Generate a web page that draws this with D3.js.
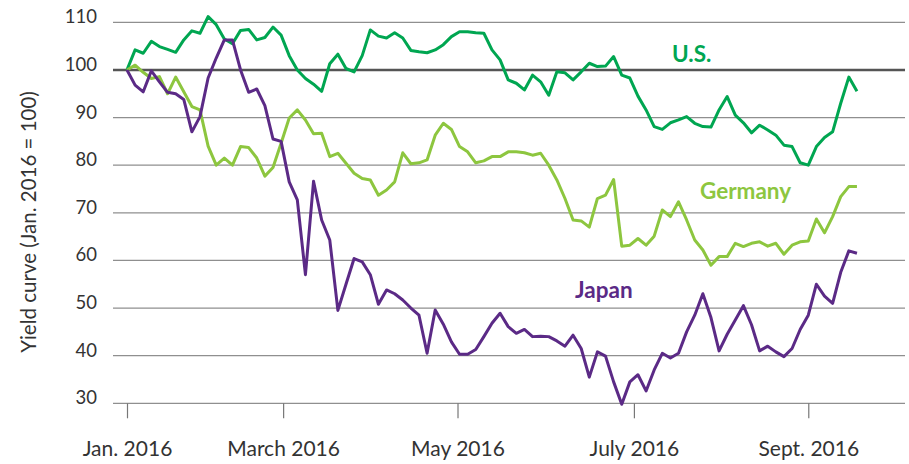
<!DOCTYPE html>
<html>
<head>
<meta charset="utf-8">
<script src="https://cdn.jsdelivr.net/npm/d3@7/dist/d3.min.js"></script>
<style>
	body { margin: 0; background: #fff; }
	svg { display: block; font-family: Lato, 'Open Sans', sans-serif; }
</style>
</head>
<body>
<div id="chart"></div>
<script>

// one reading every 2 trading days, starting Jan. 1 2016 (= 100)
const usValues = [
	100, 104.2, 103.5, 106, 104.9, 104.3, 103.7, 106.3, 108.2, 107.7,
	111.2, 109.5, 106.5, 105.5, 108.3, 108.5, 106.3, 106.8, 109, 107.3,
	103, 100, 98.2, 97, 95.5, 101.3, 103.3, 100.3, 99.6, 103,
	108.4, 107.1, 106.7, 107.8, 106.7, 104.1, 103.8, 103.6, 104.2, 105.3,
	107, 108, 108, 107.8, 107.7, 104.2, 102.1, 97.9, 97.2, 95.8,
	98.9, 97.5, 94.7, 99.6, 99.4, 97.9, 99.6, 101.4, 100.7, 100.8,
	102.8, 98.9, 98.3, 94.5, 91.6, 88.1, 87.5, 88.9, 89.5, 90.2,
	88.8, 88.1, 88, 91.6, 94.4, 90.5, 88.9, 86.8, 88.4, 87.4,
	86.3, 84.2, 83.9, 80.5, 80, 83.9, 85.8, 87, 93, 98.5,
	95.5
];

const germanyValues = [
	100, 101, 99.5, 98.2, 98.6, 95, 98.5, 95.4, 92.3, 91.6,
	84, 80, 81.5, 80, 83.9, 83.7, 81.5, 77.7, 79.5, 84.6,
	89.9, 91.6, 89.5, 86.6, 86.7, 81.8, 82.5, 80.4, 78.3, 77.2,
	76.9, 73.7, 74.8, 76.5, 82.6, 80.3, 80.5, 81.1, 86.3, 88.8,
	87.5, 83.9, 82.8, 80.5, 80.9, 81.8, 81.8, 82.8, 82.8, 82.6,
	82.1, 82.5, 80, 76.9, 73, 68.5, 68.3, 67, 73, 73.7,
	77, 63, 63.2, 64.6, 63.2, 65.1, 70.6, 69.2, 72.3, 68.5,
	64.3, 62.2, 59, 60.8, 60.8, 63.6, 62.9, 63.6, 63.9, 63,
	63.6, 61.3, 63.2, 63.9, 64.1, 68.7, 65.8, 69.2, 73.4, 75.5,
	75.5
];

const japanValues = [
	100, 96.8, 95.4, 99.8, 97.5, 95.3, 95, 93.8, 87, 90.2,
	98.3, 102.5, 106.3, 106.3, 100, 95.3, 96, 92.5, 85.5, 85,
	76.5, 72.7, 57, 76.6, 68.5, 64.3, 49.5, 55, 60.4, 59.7,
	57, 50.8, 53.8, 53, 51.7, 50, 48.5, 40.5, 49.6, 46.6,
	42.9, 40.3, 40.3, 41.3, 44, 46.8, 48.9, 46.1, 44.7, 45.5,
	44, 44.1, 44, 43.1, 42, 44.3, 41.5, 35.5, 40.8, 39.9,
	34.5, 29.8, 34.5, 36, 32.6, 37, 40.5, 39.5, 40.5, 45,
	48.5, 53, 48, 41, 44.5, 47.5, 50.5, 46.5, 41, 42,
	40.8, 39.8, 41.5, 45.5, 48.5, 55, 52.5, 51, 57.5, 62,
	61.5
];

const seriesNames = ['U.S.', 'Germany', 'Japan'];
const monthTicks = [0, 38.5, 81.5, 125, 168];	// trading-day index of each month start
const monthLabels = ['Jan. 2016', 'March 2016', 'May 2016', 'July 2016', 'Sept. 2016'];
const yTicks = [30, 40, 50, 60, 70, 80, 90, 100, 110];

const stepDays = 2;
const colors = {'U.S.': '#00a651', 'Germany': '#8dc63f', 'Japan': '#5b2a86'};
// where each series name sits, in [trading day, value]
const labelSpots = {'U.S.': [134.4, 101.7], 'Germany': [141.3, 73], 'Japan': [110.5, 52.2]};

const width = 909;
const height = 464;

const x = d3.scaleLinear().domain([0, 181]).range([127, 861]);
const y = d3.scaleLinear().domain([30, 110]).range([403.3, 22.3]);

const svg = d3.select('#chart').append('svg')
	.attr('width', width)
	.attr('height', height);

// grid
svg.append('g')
	.selectAll('line')
	.data(yTicks)
	.enter()
	.append('line')
	.attr('x1', 113)
	.attr('x2', 905)
	.attr('y1', d => y(d))
	.attr('y2', d => y(d))
	.style('stroke', d => d === 100 ? '#555' : '#8f8f8f')
	.style('stroke-width', d => d === 100 ? 2.6 : 1.2);

// y labels
svg.append('g')
	.selectAll('text')
	.data(yTicks)
	.enter()
	.append('text')
	.attr('x', 97)
	.attr('y', d => y(d) + 1)
	.attr('text-anchor', 'end')
	.style('font-size', '18.5px')
	.style('fill', '#333')
	.text(d => d);

svg.append('text')
	.attr('transform', 'translate(36,222) rotate(-90)')
	.attr('text-anchor', 'middle')
	.style('font-size', '20.5px')
	.style('fill', '#333')
	.text('Yield curve (Jan. 2016 = 100)');

// x axis
const xAxis = d3.axisBottom(x)
	.tickValues(monthTicks)
	.tickSize(15)
	.tickFormat((d, i) => monthLabels[i]);

const xg = svg.append('g')
	.attr('transform', `translate(0,${y(30)})`)
	.call(xAxis);

xg.select('.domain').remove();
xg.selectAll('.tick line').style('stroke', '#777').style('stroke-width', 1.2);
xg.selectAll('.tick text')
	.attr('y', 53)
	.attr('dy', 0)
	.style('font-family', 'Lato, sans-serif')
	.style('font-size', '21px')
	.style('fill', '#333');

// lines
const line = d3.line()
	.x((d, i) => x(i * stepDays))
	.y(d => y(d));

const series = [usValues, germanyValues, japanValues];

svg.append('g')
	.selectAll('path')
	.data(series)
	.enter()
	.append('path')
	.attr('d', line)
	.style('fill', 'none')
	.style('stroke', (d, i) => colors[seriesNames[i]])
	.style('stroke-width', 3)
	.style('stroke-linejoin', 'round');

// series names
svg.append('g')
	.selectAll('text')
	.data(seriesNames)
	.enter()
	.append('text')
	.attr('x', d => x(labelSpots[d][0]))
	.attr('y', d => y(labelSpots[d][1]))
	.style('font-size', '22.5px')
	.style('font-weight', 'bold')
	.style('fill', d => colors[d])
	.text(d => d);

</script>
</body>
</html>
